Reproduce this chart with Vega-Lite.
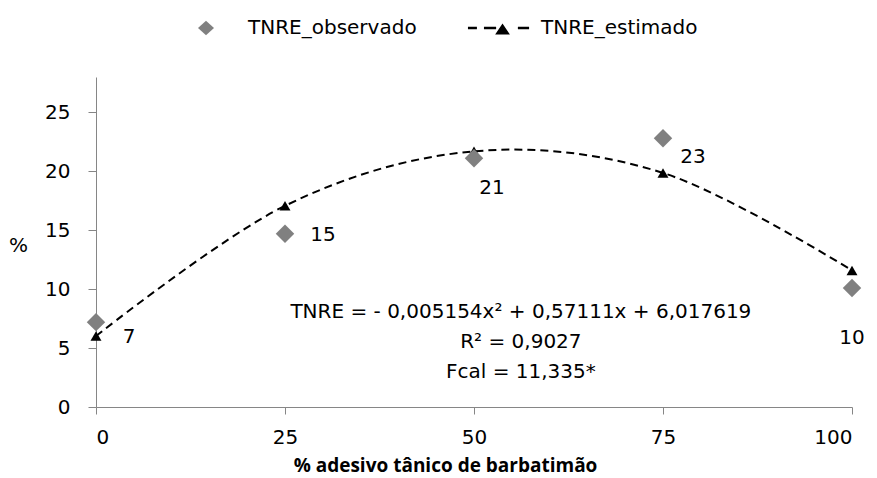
{
  "$schema": "https://vega.github.io/schema/vega-lite/v6.json",
  "width": 756,
  "height": 330,
  "autosize": {"type": "none"},
  "padding": {"left": 96, "top": 77, "right": 25, "bottom": 71},
  "background": "white",
  "config": {
    "font": "DejaVu Sans",
    "view": {"stroke": null},
    "axis": {
      "grid": false,
      "domainColor": "#868686",
      "domainWidth": 1,
      "tickColor": "#868686",
      "tickWidth": 1,
      "labelFont": "DejaVu Sans",
      "labelFontSize": 20,
      "labelColor": "#000000",
      "titleColor": "#000000"
    }
  },
  "data": {
    "values": [
      {"adesivo": 0, "TNRE_observado": 7.2, "TNRE_estimado": 6.02},
      {"adesivo": 25, "TNRE_observado": 14.7, "TNRE_estimado": 17.07},
      {"adesivo": 50, "TNRE_observado": 21.1, "TNRE_estimado": 21.69},
      {"adesivo": 75, "TNRE_observado": 22.8, "TNRE_estimado": 19.86},
      {"adesivo": 100, "TNRE_observado": 10.1, "TNRE_estimado": 11.59}
    ]
  },
  "layer": [
    {
      "mark": {"type": "line", "interpolate": "cardinal", "color": "#000000", "strokeWidth": 2, "strokeDash": [8, 5]},
      "encoding": {
        "x": {
          "field": "adesivo", "type": "quantitative",
          "scale": {"domain": [0, 100], "nice": false, "zero": false},
          "axis": {
            "values": [0, 25, 50, 75, 100],
            "tickSize": 7,
            "labelPadding": 13,
            "title": "% adesivo tânico de barbatimão",
            "titleFont": "Open Sans",
            "titleFontSize": 19,
            "titleFontWeight": "bold",
            "titleX": 349,
            "titleY": 58,
            "titleAlign": "center",
            "titleBaseline": "middle",
            "titleAnchor": null
          }
        },
        "y": {
          "field": "TNRE_estimado", "type": "quantitative", "title": "%",
          "scale": {"domain": [0, 28], "nice": false},
          "axis": {
            "values": [0, 5, 10, 15, 20, 25],
            "tickSize": 8,
            "labelPadding": 18,
            "titleFont": "DejaVu Sans",
            "titleFontSize": 20,
            "titleFontWeight": "normal",
            "titleAngle": 0,
            "titleX": -78,
            "titleY": 168,
            "titleAlign": "center",
            "titleBaseline": "middle",
            "titleAnchor": null
          }
        }
      }
    },
    {
      "mark": {"type": "point", "shape": "triangle-up", "filled": true, "size": 120, "opacity": 1, "color": "#000000"},
      "encoding": {
        "x": {"field": "adesivo", "type": "quantitative"},
        "y": {"field": "TNRE_estimado", "type": "quantitative", "title": "%"}
      }
    },
    {
      "mark": {"type": "point", "shape": "diamond", "filled": true, "size": 340, "opacity": 1, "color": "#808080"},
      "encoding": {
        "x": {"field": "adesivo", "type": "quantitative"},
        "y": {"field": "TNRE_observado", "type": "quantitative", "title": "%"}
      }
    },
    {
      "transform": [{"fold": ["TNRE_observado", "TNRE_estimado"], "as": ["serie", "valor"]}],
      "mark": {"type": "point", "filled": true, "opacity": 0},
      "encoding": {
        "x": {"field": "adesivo", "type": "quantitative"},
        "y": {"field": "valor", "type": "quantitative", "title": "%"},
        "color": {
          "field": "serie", "type": "nominal",
          "scale": {"domain": ["TNRE_observado", "TNRE_estimado"], "range": ["#808080", "#000000"]},
          "legend": {
            "orient": "none",
            "legendX": 78,
            "legendY": -81,
            "direction": "horizontal",
            "title": null,
            "padding": 0,
            "symbolSize": 4096,
            "symbolStrokeWidth": 0,
            "symbolOpacity": 1,
            "labelFont": "DejaVu Sans",
            "labelFontSize": 20,
            "labelColor": "#000000",
            "labelLimit": 400,
            "labelOffset": 10,
            "columnPadding": 50
          }
        },
        "shape": {
          "field": "serie", "type": "nominal",
          "scale": {
            "domain": ["TNRE_observado", "TNRE_estimado"],
            "range": [
              "M-0.25,0L0,-0.23L0.25,0L0,0.23Z",
              "M-0.97,-0.04H-0.69V0.04H-0.97ZM-0.47,-0.04H-0.09V0.04H-0.47ZM0.11,-0.14L0.34,0.2L-0.12,0.2ZM0.59,-0.04H0.94V0.04H0.59Z"
            ]
          },
          "legend": {
            "orient": "none",
            "legendX": 78,
            "legendY": -81,
            "direction": "horizontal",
            "title": null,
            "padding": 0,
            "symbolSize": 4096,
            "symbolStrokeWidth": 0,
            "symbolOpacity": 1,
            "labelFont": "DejaVu Sans",
            "labelFontSize": 20,
            "labelColor": "#000000",
            "labelLimit": 400,
            "labelOffset": 10,
            "columnPadding": 50
          }
        }
      }
    },
    {
      "transform": [{"filter": "datum.adesivo == 0"}],
      "mark": {"type": "text", "fontSize": 20, "color": "#000000", "align": "center", "baseline": "middle", "dx": 33, "dy": 15},
      "encoding": {
        "x": {"field": "adesivo", "type": "quantitative"},
        "y": {"field": "TNRE_observado", "type": "quantitative", "title": "%"},
        "text": {"field": "TNRE_observado", "format": ".0f"}
      }
    },
    {
      "transform": [{"filter": "datum.adesivo == 25"}],
      "mark": {"type": "text", "fontSize": 20, "color": "#000000", "align": "center", "baseline": "middle", "dx": 38, "dy": 1},
      "encoding": {
        "x": {"field": "adesivo", "type": "quantitative"},
        "y": {"field": "TNRE_observado", "type": "quantitative", "title": "%"},
        "text": {"field": "TNRE_observado", "format": ".0f"}
      }
    },
    {
      "transform": [{"filter": "datum.adesivo == 50"}],
      "mark": {"type": "text", "fontSize": 20, "color": "#000000", "align": "center", "baseline": "middle", "dx": 18, "dy": 30},
      "encoding": {
        "x": {"field": "adesivo", "type": "quantitative"},
        "y": {"field": "TNRE_observado", "type": "quantitative", "title": "%"},
        "text": {"field": "TNRE_observado", "format": ".0f"}
      }
    },
    {
      "transform": [{"filter": "datum.adesivo == 75"}],
      "mark": {"type": "text", "fontSize": 20, "color": "#000000", "align": "center", "baseline": "middle", "dx": 30, "dy": 19},
      "encoding": {
        "x": {"field": "adesivo", "type": "quantitative"},
        "y": {"field": "TNRE_observado", "type": "quantitative", "title": "%"},
        "text": {"field": "TNRE_observado", "format": ".0f"}
      }
    },
    {
      "transform": [{"filter": "datum.adesivo == 100"}],
      "mark": {"type": "text", "fontSize": 20, "color": "#000000", "align": "center", "baseline": "middle", "dx": 0, "dy": 50},
      "encoding": {
        "x": {"field": "adesivo", "type": "quantitative"},
        "y": {"field": "TNRE_observado", "type": "quantitative", "title": "%"},
        "text": {"field": "TNRE_observado", "format": ".0f"}
      }
    },
    {
      "data": {"values": [{"linhas": ["TNRE = - 0,005154x² + 0,57111x + 6,017619", "R² = 0,9027", "Fcal = 11,335*"]}]},
      "mark": {"type": "text", "fontSize": 20, "color": "#000000", "align": "center", "baseline": "middle", "lineHeight": 30},
      "encoding": {
        "x": {"datum": 56.2, "type": "quantitative"},
        "y": {"datum": 8.09, "type": "quantitative", "title": "%"},
        "text": {"field": "linhas"}
      }
    }
  ]
}
